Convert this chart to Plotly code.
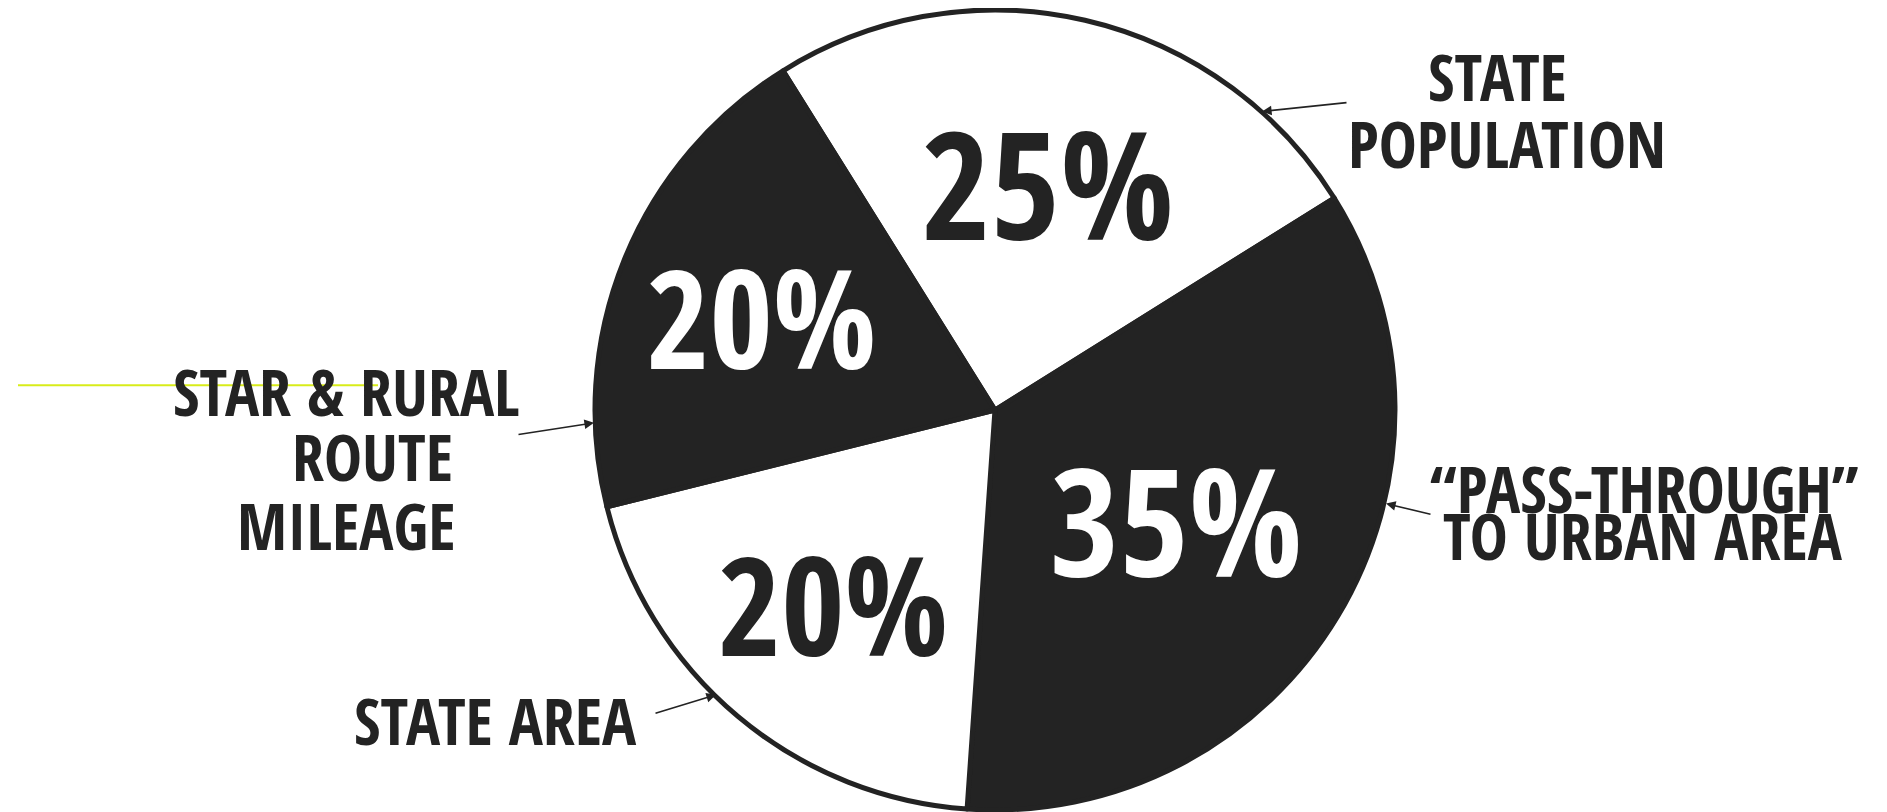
import plotly.graph_objects as go

# ---- data ----
categories = ["STATE POPULATION", "\u201cPASS-THROUGH\u201d TO URBAN AREA", "STATE AREA", "STAR & RURAL ROUTE MILEAGE"]
shares = [25, 35, 20, 20]
slice_colors = ["#ffffff", "#232323", "#ffffff", "#232323"]
text_colors = ["#232323", "#ffffff", "#232323", "#ffffff"]

DARK = "#232323"
FONT = "Open Sans Condensed, Roboto Condensed, sans-serif"
OFFX = 8
OFFY = 3

fig = go.Figure()
fig.add_trace(go.Pie(
    labels=categories,
    values=shares,
    sort=False,
    direction="clockwise",
    rotation=-32,
    marker=dict(colors=slice_colors, line=dict(color=DARK, width=5)),
    texttemplate="%{value}%",
    textposition="inside",
    insidetextorientation="horizontal",
    insidetextfont=dict(family=FONT, size=150, color=text_colors, weight="bold"),
    showlegend=False,
    hoverinfo="label+percent",
    domain=dict(x=[0.2, 0.8461], y=[0, 1]),
))

def label(text, x, y):
    fig.add_annotation(text=text, x=(x - OFFX) / 1887, y=1 - (y - OFFY) / 812, xref="paper", yref="paper",
                       showarrow=False, xanchor="center", yanchor="middle",
                       font=dict(family=FONT, size=64, color=DARK, weight="bold"))

def arrow(tail, head):
    fig.add_annotation(text="", x=(head[0] - OFFX) / 1887, y=1 - (head[1] - OFFX) / 812, xref="paper", yref="paper",
                       ax=tail[0] - head[0], ay=tail[1] - head[1], axref="pixel", ayref="pixel",
                       showarrow=True, arrowhead=2, arrowsize=1.2, arrowwidth=1.6,
                       arrowcolor=DARK, standoff=0, startstandoff=0)

# outside labels
label("STATE", 1497, 70)
label("POPULATION", 1507, 139)
arrow((1348, 102), (1262, 111))

label("\u201cPASS-THROUGH\u201d", 1644, 489)
label("TO URBAN AREA", 1643, 536)
arrow((1432, 520), (1386, 509))

label("STAR & RURAL", 346, 390)
label("ROUTE", 372, 456)
label("MILEAGE", 346, 526)
arrow((517, 439), (594, 427))

label("STATE AREA", 495, 724)
arrow((654, 722), (716, 703))

# highlighter streak on the left
fig.add_shape(type="line", xref="paper", yref="paper",
              x0=(18 - OFFX) / 1887, x1=(378 - OFFX) / 1887,
              y0=1 - (385 - 4) / 812, y1=1 - (385 - 4) / 812,
              line=dict(color="#d8ec1a", width=2))

fig.update_layout(
    width=1887, height=812, autosize=False,
    margin=dict(l=0, r=0, t=2, b=10),
    paper_bgcolor="white", plot_bgcolor="white",
)
fig.write_html("out.html")
